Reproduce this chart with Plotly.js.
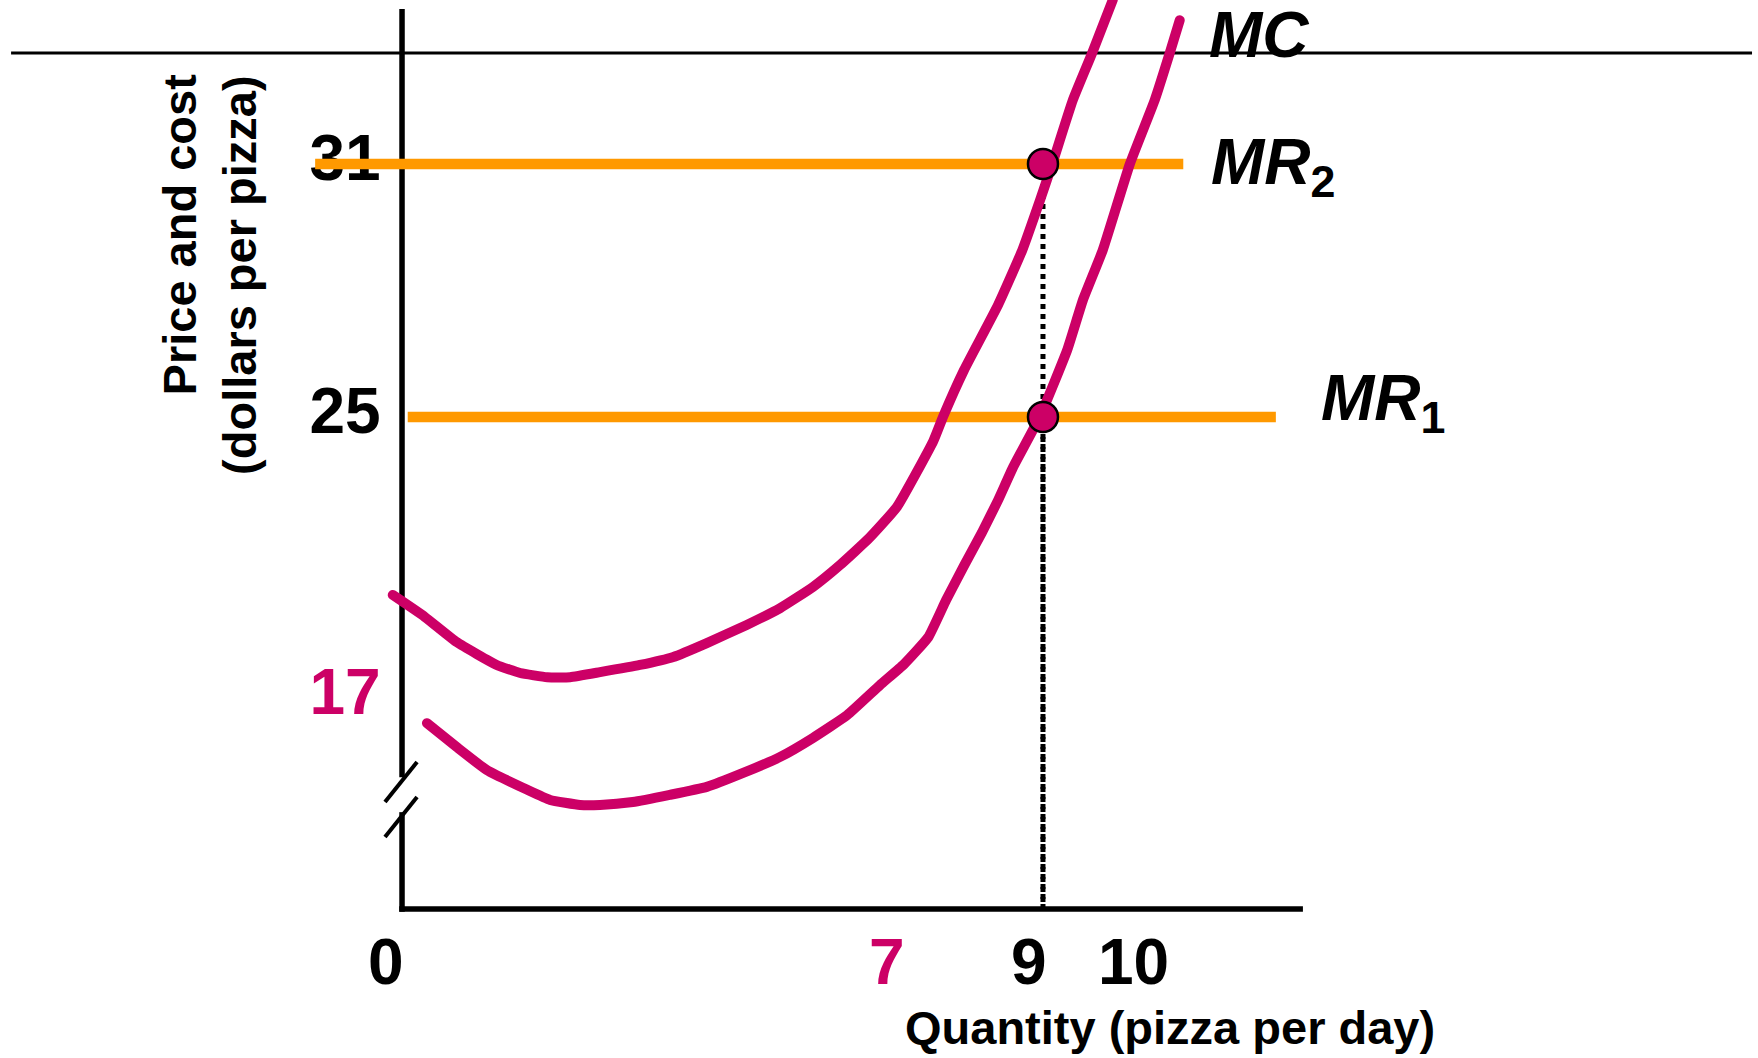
<!DOCTYPE html>
<html>
<head>
<meta charset="utf-8">
<script src="https://cdn.plot.ly/plotly-3.0.1.min.js"></script>
<style>
  html, body { margin: 0; padding: 0; background: #ffffff; }
  #chart { width: 1758px; height: 1058px; }
</style>
</head>
<body>
<div id="chart"></div>
<script>
// ---------- data ----------
// Left cost curve: quantity (pizzas per day) and cost (dollars per pizza)
const upperQty  = [-0.13, 0.32, 0.77, 1.33, 1.66, 2.04, 2.36, 2.78, 3.34, 3.81, 4.28, 4.84, 5.31, 5.77, 6.15, 6.56, 6.95, 7.46, 7.60, 7.89, 8.37, 8.71, 8.96, 9.13, 9.42, 9.69, 9.98];
const upperCost = [20.78, 20.26, 19.66, 19.12, 18.93, 18.83, 18.83, 18.95, 19.12, 19.31, 19.64, 20.07, 20.47, 20.97, 21.49, 22.13, 22.87, 24.43, 25.02, 26.11, 27.66, 28.96, 30.15, 31.00, 32.52, 33.63, 34.89];

// Marginal cost curve (MC)
const mcQty  = [0.35, 0.77, 1.19, 1.76, 2.08, 2.50, 2.78, 3.24, 3.76, 4.28, 4.79, 5.31, 5.77, 6.25, 6.71, 7.05, 7.39, 7.64, 7.89, 8.14, 8.37, 8.58, 8.96, 9.34, 9.56, 9.84, 10.22, 10.57, 10.78, 10.92];
const mcCost = [17.74, 17.17, 16.63, 16.16, 15.92, 15.80, 15.80, 15.87, 16.04, 16.23, 16.56, 16.94, 17.39, 17.93, 18.64, 19.14, 19.78, 20.66, 21.47, 22.25, 23.03, 23.81, 25.02, 26.59, 27.77, 28.96, 31.00, 32.52, 33.63, 34.41];

// Marginal revenue lines (price levels) and their horizontal extent
const mr1Price = 25;
const mr2Price = 31;
const mr1Qty = [0.08, 12.27];
const mr2Qty = [-1.22, 10.97];

// Output where MR meets MC
const chosenQty = 9;

// Tick labels
const qtyTicks     = [0, 7, 9, 10];
const qtyTickText  = ['0', '7', '9', '10'];
const priceTicks    = [31, 25, 17];
const priceTickText = ['31', '25', '17'];

// ---------- styling ----------
const MAGENTA = '#CC0066';
const ORANGE  = '#FF9900';
const FONT    = 'Liberation Sans, Arial, Helvetica, sans-serif';

// axis frame (data units); the price axis is broken just above its foot
const Q_END = 12.65;
const P_TOP = 34.675;
const P_FOOT = 13.333;
const BREAK_HI = 16.46;
const BREAK_LO = 15.63;
// "17" sits just above the break mark on the compressed part of the axis
const labelPrice = v => (v === 17 ? 18.33 : v);

const traces = [
  {
    type: 'scatter', mode: 'text', hoverinfo: 'skip',
    x: priceTicks.map(() => -0.80),
    y: priceTicks.map(labelPrice),
    text: priceTickText,
    textposition: 'middle center',
    textfont: { family: FONT, size: 64, weight: 'bold',
                color: priceTicks.map(v => (v === 17 ? MAGENTA : '#000000')) }
  },
  {
    type: 'scatter', mode: 'lines', hoverinfo: 'skip',
    x: mr2Qty, y: mr2Qty.map(() => mr2Price),
    line: { color: ORANGE, width: 10.5 }
  },
  {
    type: 'scatter', mode: 'lines', hoverinfo: 'skip',
    x: mr1Qty, y: mr1Qty.map(() => mr1Price),
    line: { color: ORANGE, width: 10.5 }
  },
  {
    type: 'scatter', mode: 'lines', hoverinfo: 'skip',
    x: [chosenQty, chosenQty], y: [mr2Price, P_FOOT],
    line: { color: '#000000', width: 5, dash: '5px,5px' }
  },
  {
    type: 'scatter', mode: 'lines', hoverinfo: 'skip',
    x: [chosenQty, chosenQty], y: [mr1Price, P_FOOT],
    line: { color: '#000000', width: 5, dash: '5px,5px' }
  },
  {
    type: 'scatter', mode: 'lines', hoverinfo: 'skip',
    x: upperQty, y: upperCost,
    line: { color: MAGENTA, width: 10, shape: 'spline', smoothing: 0.4 }
  },
  {
    type: 'scatter', mode: 'lines', hoverinfo: 'skip',
    x: mcQty, y: mcCost,
    line: { color: MAGENTA, width: 10, shape: 'spline', smoothing: 0.4 }
  },
  {
    type: 'scatter', mode: 'markers', hoverinfo: 'skip',
    x: [chosenQty, chosenQty], y: [mr2Price, mr1Price],
    marker: { color: MAGENTA, size: 30, line: { color: '#000000', width: 2.5 } },
    cliponaxis: false
  }
];

const frameLine = { color: '#000000', width: 5.5 };
const shapes = [
  // rule across the top of the slide
  { type: 'line', xref: 'paper', yref: 'paper', x0: 0.0063, x1: 0.9966, y0: 0.9499, y1: 0.9499,
    line: { color: '#000000', width: 3 }, layer: 'below' },
  // price axis, upper part
  { type: 'line', xref: 'x', yref: 'y', x0: 0, x1: 0, y0: P_TOP, y1: BREAK_HI, line: frameLine, layer: 'below' },
  // price axis, lower part
  { type: 'line', xref: 'x', yref: 'y', x0: 0, x1: 0, y0: BREAK_LO, y1: P_FOOT - 0.065, line: frameLine, layer: 'below' },
  // quantity axis
  { type: 'line', xref: 'x', yref: 'y', x0: -0.039, x1: Q_END, y0: P_FOOT, y1: P_FOOT, line: frameLine, layer: 'below' },
  // break marks
  { type: 'line', xref: 'x', yref: 'y', x0: -0.239, x1: 0.211, y0: 15.870, y1: 16.819,
    line: { color: '#000000', width: 4 }, layer: 'below' },
  { type: 'line', xref: 'x', yref: 'y', x0: -0.239, x1: 0.211, y0: 15.040, y1: 15.989,
    line: { color: '#000000', width: 4 }, layer: 'below' }
];

const qtyShift = [-16, -13.5, -14, 19];
const annotations = qtyTicks.map((v, i) => ({
  xref: 'x', yref: 'y', x: v, y: 12.08, xshift: qtyShift[i],
  text: '<b>' + qtyTickText[i] + '</b>', showarrow: false,
  xanchor: 'center', yanchor: 'middle',
  font: { family: FONT, size: 64, color: v === 7 ? MAGENTA : '#000000' }
}));

annotations.push(
  { xref: 'paper', yref: 'paper', x: 0.1018, y: 0.7784, textangle: -90,
    text: '<b>Price and cost</b>', showarrow: false, xanchor: 'center', yanchor: 'middle',
    font: { family: FONT, size: 47, color: '#000000' } },
  { xref: 'paper', yref: 'paper', x: 0.1365, y: 0.7401, textangle: -90,
    text: '<b>(dollars per pizza)</b>', showarrow: false, xanchor: 'center', yanchor: 'middle',
    font: { family: FONT, size: 47, color: '#000000' } },
  { xref: 'paper', yref: 'paper', x: 0.6655, y: 0.0293,
    text: '<b>Quantity (pizza per day)</b>', showarrow: false, xanchor: 'center', yanchor: 'middle',
    font: { family: FONT, size: 47, color: '#000000' } },
  { xref: 'paper', yref: 'paper', x: 0.6866, y: 0.967,
    text: '<b><i>MC</i></b>', showarrow: false, xanchor: 'left', yanchor: 'middle',
    font: { family: FONT, size: 64, color: '#000000' } },
  { xref: 'paper', yref: 'paper', x: 0.6877, y: 0.843,
    text: '<b><i>MR</i><sub>2</sub></b>', showarrow: false, xanchor: 'left', yanchor: 'middle',
    font: { family: FONT, size: 64, color: '#000000' } },
  { xref: 'paper', yref: 'paper', x: 0.7503, y: 0.620,
    text: '<b><i>MR</i><sub>1</sub></b>', showarrow: false, xanchor: 'left', yanchor: 'middle',
    font: { family: FONT, size: 64, color: '#000000' } }
);

const layout = {
  width: 1758, height: 1058,
  margin: { l: 0, r: 0, t: 0, b: 0, pad: 0 },
  paper_bgcolor: '#ffffff', plot_bgcolor: '#ffffff',
  showlegend: false,
  xaxis: { range: [-5.645, 19.04], visible: false, fixedrange: true },
  yaxis: { range: [9.80, 34.889], visible: false, fixedrange: true },
  shapes: shapes,
  annotations: annotations
};

Plotly.newPlot('chart', traces, layout, { staticPlot: true, displayModeBar: false }).then(() => {
  // rounded ends on the two cost curves
  const groups = document.querySelectorAll('#chart .scatterlayer .trace');
  [5, 6].forEach(i => {
    if (groups[i]) groups[i].querySelectorAll('.js-line').forEach(p => p.style.strokeLinecap = 'round');
  });
});
</script>
</body>
</html>
